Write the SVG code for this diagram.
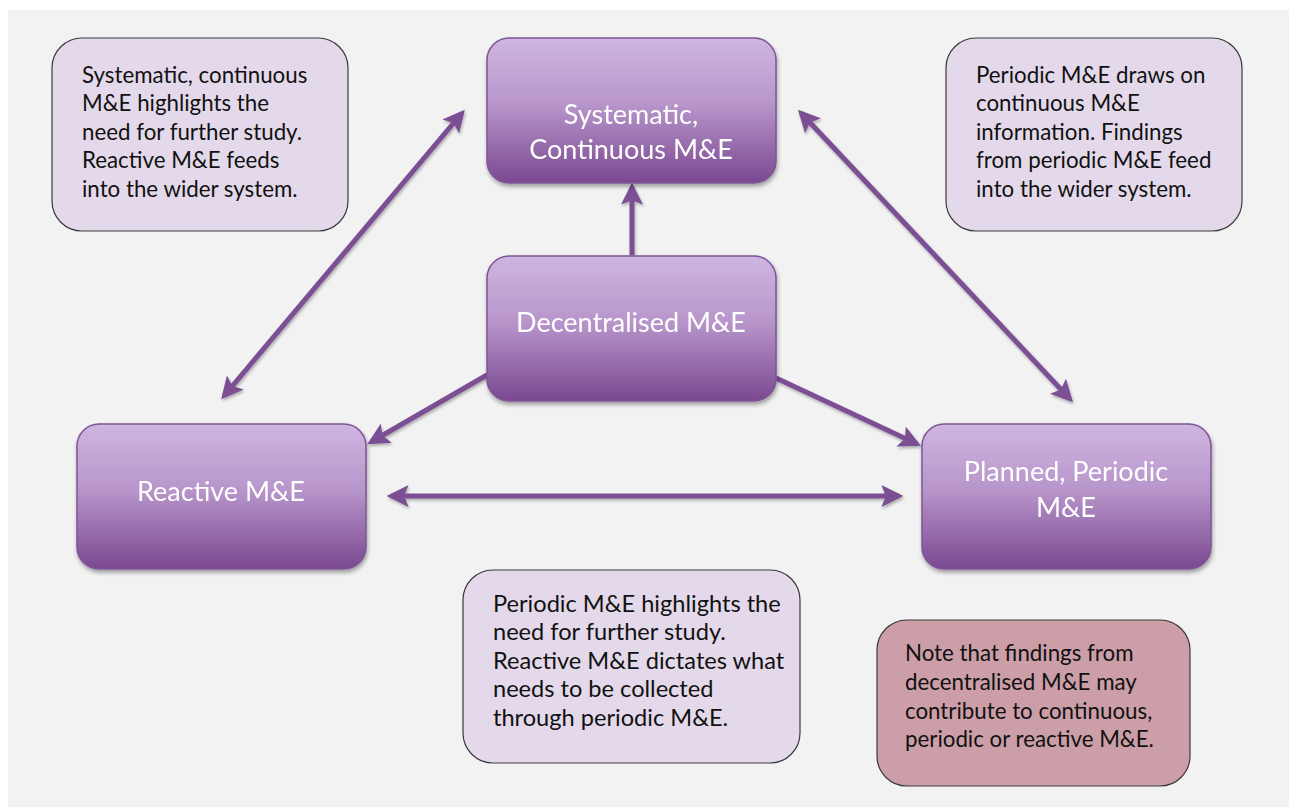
<svg xmlns="http://www.w3.org/2000/svg" width="1289" height="807" viewBox="0 0 1289 807">
  <defs>
    <linearGradient id="nodeFill" x1="0" y1="0" x2="0" y2="1">
      <stop offset="0" stop-color="#cfb5e1"/>
      <stop offset="0.45" stop-color="#b896cb"/>
      <stop offset="1" stop-color="#7a4890"/>
    </linearGradient>
    <filter id="shadow" x="-10%" y="-10%" width="120%" height="130%">
      <feGaussianBlur in="SourceAlpha" stdDeviation="2"/>
      <feOffset dx="1" dy="3" result="b"/>
      <feComponentTransfer><feFuncA type="linear" slope="0.35"/></feComponentTransfer>
      <feMerge><feMergeNode/><feMergeNode in="SourceGraphic"/></feMerge>
    </filter>
    <filter id="lineShadow" x="-10%" y="-10%" width="120%" height="120%">
      <feGaussianBlur in="SourceAlpha" stdDeviation="1.5"/>
      <feOffset dx="1" dy="2" result="b"/>
      <feComponentTransfer><feFuncA type="linear" slope="0.3"/></feComponentTransfer>
      <feMerge><feMergeNode/><feMergeNode in="SourceGraphic"/></feMerge>
    </filter>
    <marker id="head" viewBox="0 0 10 10" refX="8" refY="5" markerWidth="4.4" markerHeight="4.4" orient="auto-start-reverse" markerUnits="strokeWidth">
      <path d="M0,0 L10,5 L0,10 L2,5 Z" fill="#7b5094"/>
    </marker>
  </defs>
  <style>
    .node rect { fill: url(#nodeFill); stroke: #7e5596; stroke-width: 1.5; }
    .node text { font-family: Lato, "Open Sans", sans-serif; font-size: 27px; fill: #ffffff; text-anchor: middle; }
    .note rect { fill: #e4d9ea; stroke: #3a3a3a; stroke-width: 1.2; }
    .note text { font-family: Lato, "Open Sans", sans-serif; font-size: 22.3px; fill: #111111; }
    .note.wide text { font-size: 23.6px; }
    .alert rect { fill: #cc9ea8; }
    .link { stroke: #7b5094; stroke-width: 5; fill: none; }
  </style>

  <rect x="8" y="10" width="1281" height="797" fill="#f2f2f2"/>

  <!-- connectors -->
  <g id="connectors" filter="url(#lineShadow)">
    <line class="link" x1="632" y1="255" x2="632" y2="187" marker-end="url(#head)"/>
    <line class="link" x1="224" y1="396" x2="462" y2="113" marker-start="url(#head)" marker-end="url(#head)"/>
    <line class="link" x1="801" y1="113" x2="1070" y2="399" marker-start="url(#head)" marker-end="url(#head)"/>
    <line class="link" x1="487" y1="375" x2="371" y2="442" marker-end="url(#head)"/>
    <line class="link" x1="776" y1="378" x2="917" y2="444" marker-end="url(#head)"/>
    <line class="link" x1="391" y1="496" x2="899" y2="496" marker-start="url(#head)" marker-end="url(#head)"/>
  </g>

  <!-- explanatory boxes -->
  <g id="note-continuous-reactive" class="note">
    <rect x="52" y="38" width="296" height="193" rx="30"/>
    <text x="82" y="83">Systematic, continuous</text>
    <text x="82" y="111">M&amp;E highlights the</text>
    <text x="82" y="140">need for further study.</text>
    <text x="82" y="168">Reactive M&amp;E feeds</text>
    <text x="82" y="197">into the wider system.</text>
  </g>
  <g id="note-periodic-continuous" class="note">
    <rect x="946" y="38" width="296" height="193" rx="30"/>
    <text x="976" y="83">Periodic M&amp;E draws on</text>
    <text x="976" y="111">continuous M&amp;E</text>
    <text x="976" y="140">information. Findings</text>
    <text x="976" y="168">from periodic M&amp;E feed</text>
    <text x="976" y="197">into the wider system.</text>
  </g>
  <g id="note-periodic-reactive" class="note wide">
    <rect x="463" y="570" width="337" height="193" rx="30"/>
    <text x="493" y="612">Periodic M&amp;E highlights the</text>
    <text x="493" y="640">need for further study.</text>
    <text x="493" y="669">Reactive M&amp;E dictates what</text>
    <text x="493" y="697">needs to be collected</text>
    <text x="493" y="726">through periodic M&amp;E.</text>
  </g>
  <g id="note-decentralised" class="note alert">
    <rect x="877" y="620" width="313" height="166" rx="30"/>
    <text x="905" y="661">Note that findings from</text>
    <text x="905" y="690">decentralised M&amp;E may</text>
    <text x="905" y="719">contribute to continuous,</text>
    <text x="905" y="747">periodic or reactive M&amp;E.</text>
  </g>

  <!-- M&E type nodes -->
  <g id="node-continuous" class="node" filter="url(#shadow)">
    <rect x="487" y="38" width="289" height="145" rx="22"/>
    <text x="631" y="124">Systematic,</text>
    <text x="631" y="159">Continuous M&amp;E</text>
  </g>
  <g id="node-decentralised" class="node" filter="url(#shadow)">
    <rect x="487" y="256" width="289" height="145" rx="22"/>
    <text x="631" y="332">Decentralised M&amp;E</text>
  </g>
  <g id="node-reactive" class="node" filter="url(#shadow)">
    <rect x="77" y="424" width="289" height="145" rx="22"/>
    <text x="221" y="501">Reactive M&amp;E</text>
  </g>
  <g id="node-periodic" class="node" filter="url(#shadow)">
    <rect x="922" y="424" width="289" height="145" rx="22"/>
    <text x="1066" y="481">Planned, Periodic</text>
    <text x="1066" y="517">M&amp;E</text>
  </g>
</svg>
